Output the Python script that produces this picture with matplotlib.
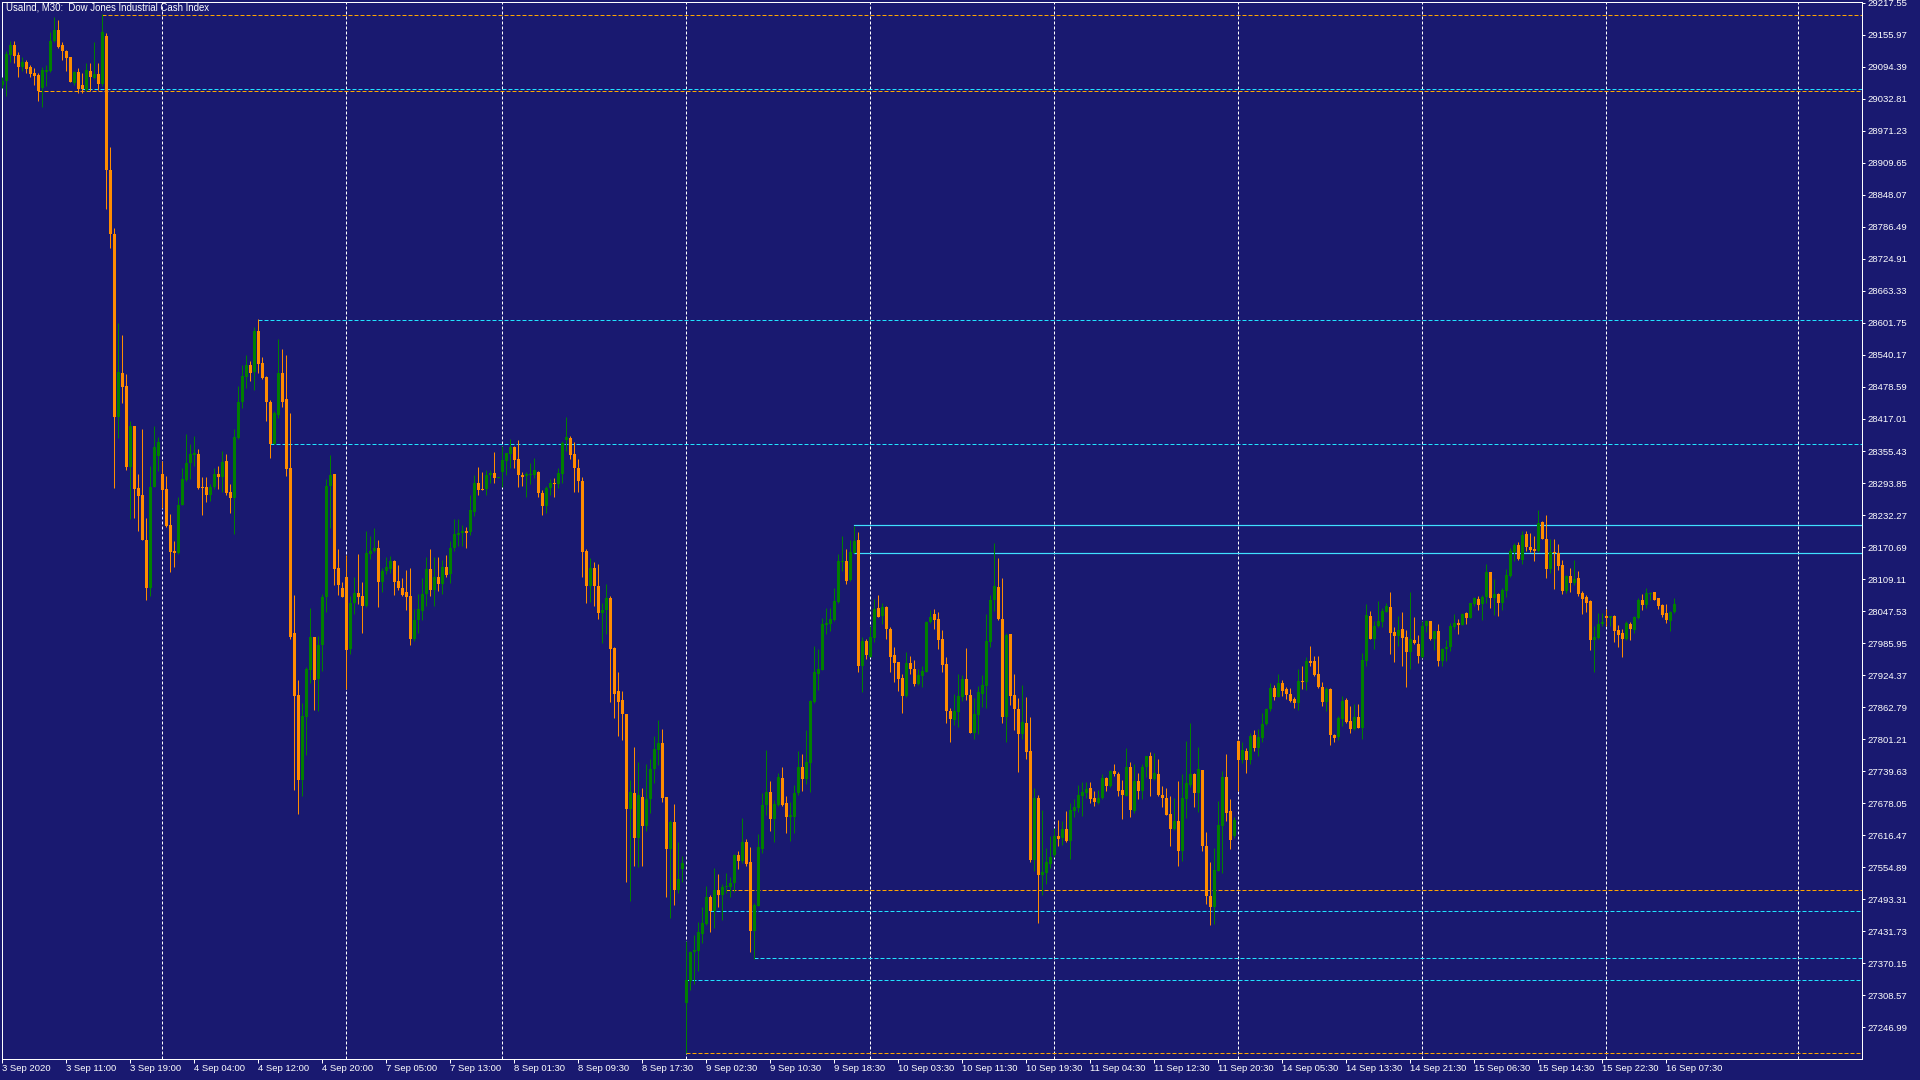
import matplotlib
matplotlib.use("Agg")
import matplotlib.pyplot as plt
import numpy as np

# ---------------- data ----------------
title = "UsaInd, M30:  Dow Jones Industrial Cash Index"

opens = [
29060,29067,29117,29137,29118,29094,29104,29094,29083,29079,
29054,29085,29087,29144,29166,29136,29124,29113,29064,29084,
29060,29050,29087,29072,29080,29062,29154,28896,28773,28420,
28505,28480,28324,28403,28285,28270,28184,28091,28287,28346,
28312,28282,28214,28163,28159,28252,28299,28332,28348,28350,
28287,28287,28270,28287,28312,28305,28337,28277,28265,28380,
28450,28498,28521,28507,28586,28524,28498,28450,28368,28425,
28505,28455,28322,28005,27887,27722,27843,27935,27997,27917,
27982,28074,28289,28311,28131,28091,28113,27975,28063,28083,
28076,28058,28158,28163,28169,28103,28124,28129,28143,28106,
28091,28084,28076,27993,28031,28048,28081,28128,28089,28113,
28100,28132,28118,28169,28194,28198,28202,28200,28239,28294,
28283,28282,28310,28314,28304,28316,28336,28350,28363,28340,
28309,28308,28309,28309,28316,28274,28249,28284,28294,28292,
28312,28377,28381,28350,28322,28298,28164,28095,28131,28096,
28043,28049,28073,27976,27893,27877,27850,27666,27698,27612,
27690,27634,27686,27743,27781,27794,27690,27589,27642,27512,
27552,27294,27336,27391,27393,27427,27446,27498,27470,27512,
27502,27516,27517,27525,27578,27567,27604,27565,27432,27480,
27589,27675,27699,27648,27675,27727,27679,27652,27652,27697,
27748,27725,27756,27873,27927,27935,28020,28023,28031,28065,
28141,28144,28107,28160,28184,27942,27990,27960,27996,28053,
28038,28055,28014,27963,27949,27918,27885,27947,27937,27907,
27923,27931,28026,28042,28032,27994,27946,27856,27838,27854,
27883,27917,27887,27814,27848,27889,27904,27989,28069,28094,
28032,27844,28003,27886,27859,27812,27833,27779,27569,27689,
27539,27544,27562,27578,27614,27612,27628,27606,27664,27668,
27692,27698,27707,27689,27679,27689,27726,27711,27740,27735,
27703,27691,27748,27664,27721,27702,27748,27769,27724,27734,
27693,27689,27657,27628,27644,27587,27687,27713,27734,27697,
27741,27596,27500,27479,27548,27635,27729,27663,27615,27798,
27762,27779,27761,27809,27784,27804,27830,27859,27899,27883,
27910,27897,27888,27878,27871,27914,27912,27952,27952,27927,
27902,27873,27898,27810,27805,27840,27877,27837,27821,27844,
27823,27952,28038,27994,28018,28027,28046,28055,28007,28000,
28014,27998,27968,27992,27985,27960,28018,28028,27993,28009,
27952,27974,27978,28016,28025,28021,28043,28035,28061,28071,
28061,28074,28122,28073,28080,28064,28087,28115,28162,28175,
28146,28195,28170,28167,28164,28218,28187,28128,28160,28159,
28136,28087,28115,28101,28111,28082,28074,28066,27992,27996,
28023,28038,28035,28038,28011,28005,27994,28023,28012,28035,
28069,28059,28081,28084,28072,28059,28043,28029,28045]

highs = [
29074,29124,29144,29144,29122,29114,29107,29098,29092,29082,
29094,29098,29162,29190,29185,29142,29126,29114,29087,29092,
29082,29102,29102,29142,29102,29195,29160,28941,28785,28601,
28579,28503,28413,28403,28312,28398,28227,28327,28403,28383,
28337,28307,28234,28182,28267,28322,28388,28368,28385,28360,
28305,28305,28292,28322,28327,28356,28350,28292,28398,28480,
28521,28541,28529,28594,28609,28536,28500,28453,28433,28571,
28551,28541,28428,28078,27915,27870,27940,28054,27997,28000,
28081,28302,28348,28311,28166,28104,28156,28076,28113,28158,
28104,28202,28192,28207,28185,28131,28151,28154,28146,28136,
28111,28126,28131,28051,28081,28111,28152,28166,28152,28152,
28146,28156,28182,28224,28224,28214,28209,28271,28309,28324,
28316,28318,28319,28353,28306,28366,28352,28378,28366,28377,
28316,28316,28332,28342,28317,28281,28288,28302,28304,28322,
28374,28421,28385,28373,28340,28306,28166,28150,28142,28138,
28063,28100,28076,27978,27931,27893,27850,27722,27787,27757,
27707,27753,27764,27808,27838,27821,27690,27646,27676,27604,
27577,27413,27393,27424,27450,27478,27519,27502,27553,27541,
27523,27543,27537,27581,27587,27650,27609,27594,27486,27618,
27697,27780,27721,27684,27737,27747,27691,27680,27713,27778,
27772,27818,27876,27980,27974,28034,28054,28054,28092,28157,
28191,28166,28184,28212,28200,27998,27994,28018,28071,28079,
28063,28057,28016,27979,27950,27927,27968,27961,27954,27937,
27941,28029,28050,28052,28045,28011,27959,27862,27888,27927,
27925,27977,27898,27880,27903,27925,28041,28079,28179,28150,
28112,28006,28003,27927,27880,27905,27883,27843,27708,27694,
27665,27592,27615,27631,27646,27643,27663,27678,27687,27713,
27718,27718,27718,27702,27704,27734,27729,27742,27753,27739,
27723,27784,27758,27753,27736,27753,27769,27776,27774,27763,
27711,27707,27691,27689,27721,27734,27798,27833,27737,27787,
27742,27623,27564,27591,27683,27740,27773,27686,27652,27800,
27795,27784,27814,27819,27820,27851,27862,27910,27905,27927,
27915,27901,27900,27883,27937,27942,27960,27980,27961,27961,
27911,27901,27899,27812,27846,27884,27880,27865,27869,27869,
27966,28061,28048,28029,28067,28053,28063,28084,28016,28038,
28046,28011,28084,28036,28002,28029,28030,28029,28009,28023,
27976,27992,28024,28041,28032,28043,28045,28064,28074,28077,
28078,28139,28123,28109,28083,28091,28128,28168,28179,28181,
28202,28202,28198,28191,28242,28221,28232,28187,28187,28177,
28146,28117,28130,28146,28125,28086,28079,28069,28018,28043,
28043,28052,28039,28040,28021,28013,28029,28026,28039,28072,
28080,28091,28085,28084,28073,28061,28061,28048,28073]

lows = [
29054,29039,29104,29102,29075,29087,29082,29074,29060,29029,
29017,29057,29084,29142,29130,29107,29087,29065,29060,29044,
29044,29047,29047,29070,29050,29057,28820,28745,28285,28380,
28448,28319,28225,28227,28202,28184,28068,28076,28287,28317,
28245,28210,28123,28133,28158,28252,28297,28302,28327,28282,
28232,28257,28260,28282,28282,28277,28270,28237,28195,28378,
28438,28476,28491,28473,28505,28493,28413,28342,28368,28418,
28440,28307,27993,27704,27658,27692,27771,27910,27857,27855,
27933,28046,28207,28098,28078,28074,27897,27965,28041,28061,
28005,28056,28148,28161,28056,28084,28118,28121,28079,28089,
28076,28049,27983,27990,28005,28031,28058,28077,28058,28087,
28080,28113,28101,28164,28173,28173,28169,28193,28231,28271,
28281,28271,28293,28293,28304,28287,28309,28322,28322,28286,
28289,28266,28292,28304,28266,28233,28237,28271,28266,28284,
28293,28355,28340,28277,28277,28114,28063,28065,28058,28033,
27986,28004,27873,27842,27808,27800,27527,27490,27557,27555,
27557,27624,27660,27717,27751,27680,27498,27458,27482,27505,
27527,27197,27318,27330,27355,27409,27443,27430,27438,27478,
27454,27506,27497,27508,27551,27563,27557,27391,27379,27480,
27583,27656,27624,27604,27672,27672,27621,27605,27621,27693,
27701,27715,27699,27871,27895,27935,28003,28010,28028,28063,
28125,28100,28105,28159,27931,27891,27955,27959,27989,28036,
28023,27993,27931,27912,27893,27851,27883,27926,27904,27905,
27901,27931,28024,28013,27975,27931,27832,27795,27829,27825,
27875,27877,27814,27801,27812,27864,27862,27979,28048,28030,
27833,27795,27866,27818,27739,27802,27764,27564,27548,27448,
27501,27523,27553,27575,27596,27598,27604,27570,27652,27662,
27654,27689,27678,27673,27677,27687,27702,27710,27730,27691,
27647,27691,27651,27660,27687,27687,27729,27691,27723,27691,
27671,27655,27595,27626,27558,27566,27649,27709,27671,27662,
27587,27485,27444,27445,27548,27544,27643,27589,27612,27702,
27755,27737,27753,27779,27768,27796,27829,27856,27877,27882,
27884,27878,27873,27862,27857,27898,27896,27941,27923,27899,
27865,27855,27790,27796,27800,27826,27833,27814,27818,27822,
27802,27942,27993,27975,28016,28016,28045,27965,27950,27980,
27941,27902,27936,27984,27948,27957,28008,27992,27973,27941,
27941,27951,27971,28014,28004,28021,28023,28034,28057,28050,
28030,28063,28054,28040,28039,28050,28075,28113,28143,28145,
28138,28164,28162,28143,28162,28186,28112,28121,28090,28127,
28080,28083,28085,28098,28077,28042,28046,27973,27931,27993,
28018,28018,28018,27989,27979,27960,27992,27992,28006,28033,
28050,28053,28068,28069,28052,28037,28024,28010,28043]

closes = [
29067,29119,29137,29115,29094,29104,29090,29080,29077,29047,
29089,29089,29144,29166,29132,29124,29112,29065,29084,29052,
29052,29089,29075,29080,29062,29162,28896,28772,28420,28507,
28478,28324,28403,28282,28269,28184,28091,28287,28363,28373,
28280,28212,28161,28159,28252,28302,28332,28350,28352,28285,
28284,28270,28287,28311,28305,28335,28275,28265,28382,28450,
28500,28521,28505,28586,28522,28495,28450,28368,28428,28506,
28450,28320,27997,27885,27722,27845,27937,27997,27915,27982,
28074,28289,28309,28129,28098,28074,27973,28063,28083,28074,
28058,28159,28163,28169,28103,28124,28133,28143,28104,28091,
28079,28074,27993,28031,28051,28081,28128,28089,28113,28100,
28132,28116,28169,28196,28198,28201,28198,28241,28294,28281,
28281,28310,28314,28304,28305,28338,28351,28364,28339,28309,
28306,28312,28311,28318,28274,28249,28285,28294,28292,28314,
28371,28382,28348,28322,28298,28162,28095,28131,28095,28043,
28049,28073,27974,27889,27873,27849,27666,27700,27612,27693,
27634,27687,27744,27783,27794,27689,27589,27642,27512,27532,
27563,27338,27391,27395,27430,27447,27498,27470,27512,27502,
27517,27519,27525,27578,27567,27604,27561,27432,27482,27593,
27675,27699,27648,27676,27729,27675,27652,27655,27698,27748,
27725,27757,27875,27931,27937,28023,28024,28033,28067,28144,
28144,28105,28161,28182,27941,27990,27963,27997,28052,28037,
28055,28013,27960,27947,27917,27885,27947,27937,27907,27925,
27932,28026,28037,28030,27992,27944,27856,27840,27856,27884,
27917,27886,27814,27850,27891,27905,27990,28068,28096,28032,
27844,28002,27885,27859,27812,27835,27777,27569,27689,27539,
27546,27564,27575,27614,27609,27628,27606,27665,27670,27694,
27700,27705,27687,27681,27689,27726,27711,27740,27734,27702,
27693,27747,27665,27721,27702,27748,27769,27724,27736,27693,
27689,27655,27628,27644,27587,27689,27716,27734,27697,27743,
27595,27500,27479,27550,27636,27728,27660,27607,27646,27761,
27780,27761,27807,27784,27805,27830,27859,27899,27883,27910,
27894,27888,27875,27871,27913,27912,27952,27948,27925,27901,
27873,27897,27809,27804,27841,27875,27835,27821,27843,27823,
27954,28040,27994,28019,28028,28048,28057,28006,28000,28012,
27996,27968,27994,27987,27962,28019,28028,27993,28009,27952,
27975,27979,28018,28024,28020,28041,28035,28063,28072,28059,
28074,28122,28073,28080,28064,28088,28117,28163,28175,28147,
28194,28170,28165,28164,28216,28186,28128,28162,28159,28135,
28087,28115,28101,28109,28080,28071,28064,27992,27997,28022,
28027,28035,28038,28010,28002,27994,28024,28013,28037,28069,
28059,28082,28083,28069,28057,28040,28030,28046,28061]

x_labels = ["3 Sep 2020", "3 Sep 11:00", "3 Sep 19:00", "4 Sep 04:00", "4 Sep 12:00",
            "4 Sep 20:00", "7 Sep 05:00", "7 Sep 13:00", "8 Sep 01:30", "8 Sep 09:30",
            "8 Sep 17:30", "9 Sep 02:30", "9 Sep 10:30", "9 Sep 18:30", "10 Sep 03:30",
            "10 Sep 11:30", "10 Sep 19:30", "11 Sep 04:30", "11 Sep 12:30", "11 Sep 20:30",
            "14 Sep 05:30", "14 Sep 13:30", "14 Sep 21:30", "15 Sep 06:30", "15 Sep 14:30",
            "15 Sep 22:30", "16 Sep 07:30"]
bars_per_label = 16
grid_bars = [40, 86, 125, 171, 217, 263, 309, 355, 401, 449]

price_tick_top = 29217.55
price_tick_step = 61.58
price_tick_count = 33

level_prices = [29194.6, 29051.1, 29047.8, 28608.1, 28368.0, 28212.5, 28158.7,
                27510.5, 27470.0, 27379.4, 27337.3, 27197.2]
level_start_bar = [25, 20, 9, 64, 67, 213, 213, 181, 177, 188, 171, 171]
level_kind = ["orange", "cyan", "orange", "cyan", "cyan", "cyan_solid", "cyan_solid",
              "orange", "cyan", "cyan", "cyan", "orange"]

# ---------------- style ----------------
BG = "#191970"
UP = "#008000"
DOWN = "#ff8c00"
FG = "white"
PX = 0.72  # one pixel in points at dpi 100
level_style = {
    "orange": dict(color="#ffa500", lw=PX, dashes=(4, 2)),
    "cyan": dict(color="#22e4ff", lw=PX, dashes=(4, 2)),
    "cyan_solid": dict(color="#40e0ff", lw=PX * 1.2),
}

plt.rcParams["font.family"] = ["Liberation Sans", "DejaVu Sans"]

W, H = 1920, 1080
fig = plt.figure(figsize=(W / 100, H / 100), dpi=100, facecolor=BG)
left_px, right_px, top_px, bottom_px = 2, 1862, 2, 1059
ax = fig.add_axes([left_px / W, 1 - bottom_px / H,
                   (right_px - left_px) / W, (bottom_px - top_px) / H], facecolor=BG)

bar_px = 4.0
first_center_px = 2.3
x_min = (left_px - first_center_px) / bar_px
x_max = (right_px - first_center_px) / bar_px
ax.set_xlim(x_min, x_max)

pts_per_px = 1.9233
y_top = price_tick_top + (2.75 - top_px) * pts_per_px
y_bot = price_tick_top - (bottom_px - 2.75) * pts_per_px
ax.set_ylim(y_bot, y_top)

o = np.array(opens, float)
h = np.array(highs, float)
l = np.array(lows, float)
c = np.array(closes, float)
n = min(len(o), len(h), len(l), len(c))
o, h, l, c = o[:n], h[:n], l[:n], c[:n]
idx = np.arange(n)
up = c >= o
body_lo = np.minimum(o, c)
body_hi = np.maximum(o, c)
hh = np.maximum(h, body_hi)
ll = np.minimum(l, body_lo)
heights = np.maximum(body_hi - body_lo, pts_per_px)

# grid
for gb in grid_bars:
    ax.axvline(gb, color=FG, lw=PX, dashes=(3, 2), zorder=1)

# levels
for p, sb, kind in zip(level_prices, level_start_bar, level_kind):
    st = level_style[kind]
    kw = dict(color=st["color"], lw=st["lw"], zorder=2)
    if "dashes" in st:
        kw["dashes"] = st["dashes"]
    ax.plot([sb, x_max + 1], [p, p], **kw)

for mask, col in ((up, UP), (~up, DOWN)):
    ax.vlines(idx[mask], ll[mask], hh[mask], color=col, lw=PX, zorder=3)
    ax.bar(idx[mask], heights[mask], bottom=body_lo[mask], width=0.75,
           color=col, lw=0, zorder=4)

# axes frame
for s in ax.spines.values():
    s.set_color(FG)
    s.set_linewidth(PX)

# y ticks on right
yt = [price_tick_top - k * price_tick_step for k in range(price_tick_count)]
ax.yaxis.tick_right()
ax.set_yticks(yt)
ax.set_yticklabels([f"{v:.2f}" for v in yt])
ax.tick_params(axis="y", colors=FG, length=3 * PX, width=PX, pad=2 * PX,
               labelsize=6.8, direction="out")

# x ticks
xt = [k * bars_per_label for k in range(len(x_labels))]
ax.set_xticks(xt)
ax.set_xticklabels(x_labels, ha="left")
ax.tick_params(axis="x", colors=FG, length=4 * PX, width=PX, pad=1 * PX,
               labelsize=6.8, direction="out")

fig.text(6 / W, 1 - 3 / H, title, color=FG, fontsize=6.9, ha="left", va="top")

fig.savefig("out.png", dpi=100, facecolor=BG)
